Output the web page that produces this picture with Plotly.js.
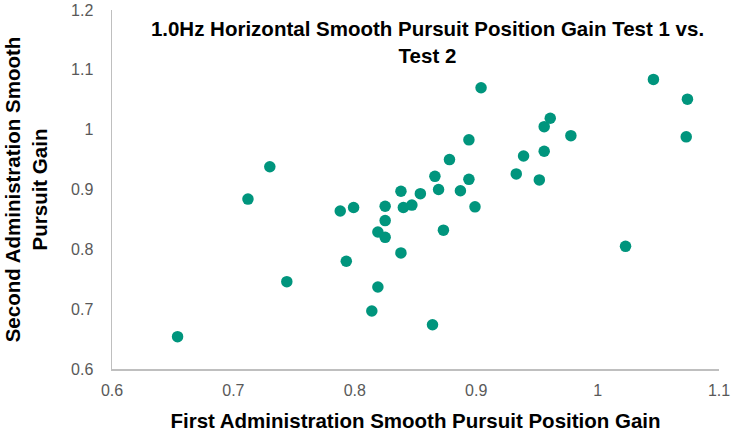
<!DOCTYPE html>
<html>
<head>
<meta charset="utf-8">
<script src="https://cdn.plot.ly/plotly-3.0.1.min.js"></script>
<style>html,body{margin:0;padding:0;background:#fff;}#chart{width:732px;height:432px;}</style>
</head>
<body>
<div id="chart"></div>
<script>
const firstAdmin = [0.654, 0.712, 0.730, 0.744, 0.788, 0.793, 0.799, 0.814, 0.819, 0.819,
  0.825, 0.825, 0.825, 0.838, 0.838, 0.840, 0.847, 0.854, 0.864, 0.866,
  0.869, 0.873, 0.878, 0.887, 0.894, 0.894, 0.899, 0.904, 0.933, 0.939,
  0.952, 0.956, 0.956, 0.961, 0.978, 1.023, 1.046, 1.073, 1.074];
const secondAdmin = [0.654, 0.884, 0.938, 0.746, 0.864, 0.780, 0.870, 0.697, 0.737, 0.829,
  0.872, 0.848, 0.820, 0.897, 0.794, 0.870, 0.874, 0.893, 0.674, 0.922,
  0.900, 0.832, 0.950, 0.898, 0.983, 0.917, 0.871, 1.070, 0.926, 0.956,
  0.916, 1.005, 0.964, 1.019, 0.990, 0.805, 1.084, 0.988, 1.051];
const xTicks = [0.6, 0.7, 0.8, 0.9, 1, 1.1];
const yTicks = [0.6, 0.7, 0.8, 0.9, 1, 1.1, 1.2];

const font = 'Arial, "Liberation Sans", sans-serif';
const trace = {
  x: firstAdmin, y: secondAdmin, type: 'scatter', mode: 'markers',
  marker: {size: 11.5, color: '#00957D'}, hoverinfo: 'x+y'
};
const layout = {
  width: 732, height: 432,
  margin: {l: 112, r: 13, t: 10, b: 63},
  paper_bgcolor: '#fff', plot_bgcolor: '#fff',
  showlegend: false,
  font: {family: font, color: '#595959', size: 16},
  title: {
    text: '<b>1.0Hz Horizontal Smooth Pursuit Position Gain Test 1 vs.<br>Test 2</b>',
    font: {family: font, size: 20.5, color: '#000'},
    xref: 'container', x: 0.584, xanchor: 'center',
    yref: 'container', y: 0.917, yanchor: 'top'
  },
  xaxis: {
    range: [0.6, 1.1], tickvals: xTicks, ticktext: xTicks.map(String),
    showgrid: false, zeroline: false, showline: true, linecolor: '#BFBFBF', linewidth: 1.5,
    ticks: '', ticklabelstandoff: 6,
    tickfont: {family: font, size: 16, color: '#595959'},
    title: {text: '<b>First Administration Smooth Pursuit Position Gain</b>',
      font: {family: font, size: 20.5, color: '#000'}, standoff: 17}
  },
  yaxis: {
    range: [0.6, 1.2], tickvals: yTicks, ticktext: yTicks.map(String),
    showgrid: false, zeroline: false, showline: true, linecolor: '#BFBFBF', linewidth: 1.5,
    ticks: '', ticklabelstandoff: 14,
    tickfont: {family: font, size: 16, color: '#595959'},
    title: {text: '<b>Second Administration Smooth<br>Pursuit Gain</b>',
      font: {family: font, size: 20.5, color: '#000'}, standoff: 18}
  }
};
Plotly.newPlot('chart', [trace], layout, {displayModeBar: false, staticPlot: true});
</script>
</body>
</html>
